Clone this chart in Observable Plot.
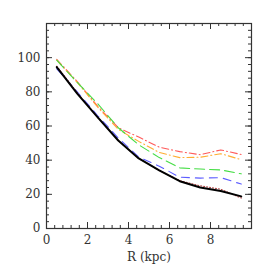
<!DOCTYPE html>
<html>
<head>
<meta charset="utf-8">
<script src="https://cdn.jsdelivr.net/npm/d3@7"></script>
<script src="https://cdn.jsdelivr.net/npm/@observablehq/plot@0.6"></script>
<style>
  html, body { margin: 0; padding: 0; background: #fff; }
  #chart { width: 273px; height: 273px; }
</style>
</head>
<body>
<div id="chart"></div>
<script>
const R = [0.5, 1.5, 2.5, 3.5, 4.5, 5.5, 6.5, 7.5, 8.5, 9.5];
const redDashDot    = [99, 86, 71.5, 59, 53.5, 47.6, 45, 43.2, 46, 43.3];
const orangeDashDot = [98.5, 85.5, 71, 58, 51, 44.5, 41.5, 41.7, 43.8, 40.3];
const greenDash     = [98.5, 85.5, 73, 59, 49, 41.5, 35.5, 34.8, 34.3, 32];
const blueDash      = [93.5, 80, 66, 53, 41.8, 36.5, 30, 29.5, 29.8, 26];
const darkRedDot    = [95, 79.5, 65, 51.5, 41, 34, 28, 25, 23, 17.8];
const blackSolid    = [94.5, 79, 65, 51.5, 41, 34, 27.7, 24, 22, 18.8];

const xMajor = [0, 2, 4, 6, 8];
const yMajor = [0, 20, 40, 60, 80, 100];
const xMinor = d3.range(0, 10.001, 0.4);
const yMinor = d3.range(0, 120.001, 4);
const xLabel = "R (kpc)";

const series = [
  {v: redDashDot, stroke: "#ff5a5a", w: 1.1, dash: "7,3,1,3"},
  {v: orangeDashDot, stroke: "#ffad33", w: 1.1, dash: "7,3,1,3"},
  {v: greenDash, stroke: "#44dd44", w: 1.1, dash: "10,5"},
  {v: blueDash, stroke: "#5c5cff", w: 1.1, dash: "8,6"},
  {v: darkRedDot, stroke: "#b04040", w: 1.1, dash: "1,2"},
  {v: blackSolid, stroke: "#000000", w: 2, dash: null}
];

const W = 273, H = 273, mL = 46, mR = 22, mT = 23, mB = 45;
const innerH = H - mT - mB;
const innerW = W - mL - mR;
const font = "DejaVu Serif";
const ink = "#333";

const lineMarks = series.map(s => Plot.line(R.map((r, i) => ({r, v: s.v[i]})), {
  x: "r", y: "v", stroke: s.stroke, strokeWidth: s.w, strokeDasharray: s.dash
}));

const chart = Plot.plot({
  width: W, height: H,
  marginLeft: mL, marginRight: mR, marginTop: mT, marginBottom: mB,
  style: {fontFamily: font, color: ink, background: "#fff"},
  x: {domain: [0, 10]},
  y: {domain: [0, 120]},
  marks: [
    ...lineMarks,
    Plot.tickX(xMinor, {x: d => d, insetTop: innerH - 3, stroke: ink}),
    Plot.tickX(xMinor, {x: d => d, insetBottom: innerH - 3, stroke: ink}),
    Plot.tickX(xMajor, {x: d => d, insetTop: innerH - 6, stroke: ink}),
    Plot.tickX(xMajor, {x: d => d, insetBottom: innerH - 6, stroke: ink}),
    Plot.tickY(yMinor, {y: d => d, insetRight: innerW - 3, stroke: ink}),
    Plot.tickY(yMinor, {y: d => d, insetLeft: innerW - 3, stroke: ink}),
    Plot.tickY(yMajor, {y: d => d, insetRight: innerW - 6, stroke: ink}),
    Plot.tickY(yMajor, {y: d => d, insetLeft: innerW - 6, stroke: ink}),
    Plot.axisX(xMajor, {anchor: "bottom", tickSize: 0, tickPadding: 7, fontSize: 12, fill: ink,
      label: xLabel, labelAnchor: "center", labelOffset: 32, labelArrow: "none"}),
    Plot.axisY(yMajor, {anchor: "left", tickSize: 0, tickPadding: 6, fontSize: 12, fill: ink, label: null}),
    Plot.frame({stroke: ink, strokeWidth: 1.2})
  ]
});
document.getElementById("chart").appendChild(chart);
</script>
</body>
</html>
